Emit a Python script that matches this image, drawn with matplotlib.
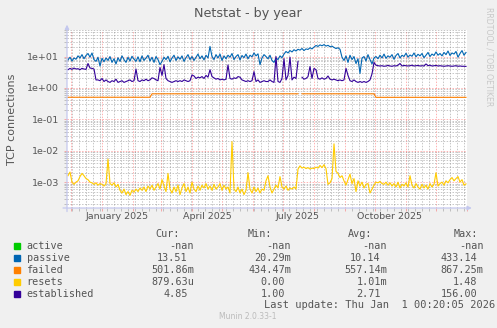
import datetime as dt
import math

import matplotlib

matplotlib.use("Agg")
import matplotlib.dates as mdates
import matplotlib.pyplot as plt
from matplotlib.patches import Rectangle
from matplotlib.ticker import FuncFormatter, LogLocator, NullFormatter
import numpy as np

END = dt.datetime(2026, 1, 1, 0, 20, 5)
START = END - dt.timedelta(days=400)
STEP_DAYS = 2

# daily averages, one sample every STEP_DAYS days
passive = [
    7.8, 9.5, 7.2, 9.0, 8.2, 10.5, 9.0, 11.5, 8.5, 10.8,
    12.5, 9.5, 13.0, 8.0, 7.0, 9.5, 5.0, 8.8, 6.8, 9.0,
    7.5, 10.0, 6.5, 8.5, 5.8, 9.2, 7.0, 10.5, 8.0, 6.5,
    9.5, 7.2, 10.2, 8.3, 7.0, 9.8, 6.8, 10.5, 7.5, 9.0,
    11.0, 7.2, 9.5, 6.5, 10.0, 8.0, 5.5, 7.0, 9.5, 8.0,
    10.2, 6.8, 9.0, 11.0, 7.5, 9.8, 8.2, 10.5, 7.0, 9.2,
    11.5, 8.0, 10.0, 7.5, 9.5, 12.0, 8.5, 10.5, 7.8, 11.0,
    9.0, 21.0, 10.0, 8.0, 11.5, 9.0, 12.0, 7.5, 10.5, 8.5,
    11.0, 9.5, 12.5, 8.0, 10.0, 11.5, 7.8, 10.8, 9.2, 12.0,
    8.5, 11.0, 9.8, 13.0, 10.5, 12.2, 5.5, 9.0, 11.5, 10.0,
    8.5, 11.0, 7.5, 6.5, 9.0, 8.0, 10.5, 9.2, 12.0, 14.5,
    13.0, 15.5, 14.0, 16.5, 15.0, 17.0, 16.0, 18.0, 15.5, 17.5,
    16.8, 19.0, 17.5, 20.0, 22.5, 21.0, 23.5, 22.0, 24.0, 21.5,
    22.8, 20.5, 21.5, 19.5, 18.0, 19.0, 17.0, 9.5, 7.5, 10.5,
    6.5, 11.0, 8.0, 10.0, 6.0, 8.5, 2.9, 9.0, 10.0, 7.2,
    11.5, 8.0, 5.8, 9.0, 10.0, 8.5, 11.0, 9.0, 12.0, 8.8,
    10.5, 9.5, 11.5, 8.2, 10.8, 12.5, 9.0, 11.0, 10.0, 12.8,
    9.5, 11.2, 10.2, 13.0, 9.8, 11.8, 10.5, 12.5, 9.2, 11.0,
    13.5, 10.0, 12.0, 10.8, 14.0, 11.0, 12.5, 10.5, 13.5, 11.5,
    15.0, 10.8, 13.0, 12.0, 14.5, 9.5, 12.5, 15.5, 11.0, 13.5,
]

nan = float("nan")

established = [
    3.8, 4.2, 3.9, 4.3, 4.0, 4.1, 3.8, 4.2, 4.0, 3.9,
    6.0, 4.3, 4.2, 4.0, 1.8, 1.8, 1.7, 2.0, 1.6, 1.8,
    1.6, 1.5, 1.7, 1.6, 1.9, 1.5, 1.6, 1.7, 1.5, 1.6,
    1.7, 1.8, 1.6, 1.7, 4.0, 1.7, 1.6, 1.8, 1.7, 1.9,
    1.7, 1.8, 2.1, 2.0, 1.8, 1.7, 4.5, 2.5, 5.5, 2.0,
    1.7, 1.6, 1.5, 1.6, 1.7, 1.6, 1.7, 1.6, 1.8, 1.7,
    1.6, 1.7, 2.6, 2.4, 2.0, 2.2, 2.1, 2.3, 2.0, 2.5,
    2.2, 3.8, 2.3, 2.1, 1.9, 2.0, 1.8, 1.9, 1.8, 1.9,
    5.4, 2.0, 1.9, 2.1, 2.0, 2.3, 2.2, 1.8, 1.7, 1.6,
    1.7, 1.6, 1.7, 3.3, 1.6, 1.8, 1.5, 1.6, 1.7, 1.6,
    1.6, 1.8, 1.6, 1.5, 10.0, 1.6, 1.5, 2.0, 8.5, 1.8,
    2.5, 9.5, 1.8, 2.2, 2.0, 7.0, nan, 2.2, 1.9, 2.0,
    2.3, 4.8, 2.0, 4.2, 3.8, 2.0, 1.9, 2.1, 1.9, 2.0,
    2.4, 1.9, 1.8, 1.9, 1.8, 1.7, 1.8, 1.7, 1.8, 4.2,
    2.5, 1.7, 1.6, 1.8, 1.6, 1.5, 1.6, 1.5, 1.6, 1.5,
    1.6, 1.8, 2.8, 6.5, 5.3, 5.1, 5.0, 5.1, 4.9, 5.0,
    5.2, 5.0, 4.9, 5.1, 5.0, 5.3, 6.0, 5.0, 5.2, 5.1,
    5.0, 5.1, 5.3, 5.0, 5.1, 5.2, 5.0, 5.1, 5.0, 5.8,
    5.1, 5.3, 5.0, 5.1, 5.2, 5.0, 5.1, 5.0, 4.9, 5.0,
    5.1, 5.0, 4.9, 5.0, 5.1, 4.9, 5.0, 4.9, 4.9, 4.85,
]

# flat levels of the failed counter, gap on the missing day
failed = [0.505] * 42 + [0.65] * 74 + [nan] + [0.65] * 37 + [0.502] * 46

# resets in thousandths
resets_m = [
    1.6, 2.1, 1.0, 0.85, 1.0, 1.1, 1.5, 1.9, 1.6, 1.3,
    1.2, 1.0, 0.95, 0.85, 0.95, 0.8, 0.9, 0.85, 0.75, 0.9,
    5.4, 0.9, 0.8, 0.95, 0.7, 0.85, 0.55, 0.45, 0.6, 0.4,
    0.5, 0.38, 0.55, 0.48, 0.6, 0.5, 0.65, 0.55, 0.7, 0.5,
    0.75, 0.6, 0.8, 0.55, 0.7, 0.9, 0.6, 1.2, 0.75, 0.5,
    1.9, 0.6, 0.45, 0.7, 0.5, 0.8, 0.4, 0.65, 0.9, 0.5,
    0.7, 0.45, 1.0, 0.6, 0.5, 0.75, 0.55, 0.8, 0.65, 0.9,
    0.6, 0.75, 0.55, 0.85, 0.6, 0.7, 0.9, 0.55, 0.8, 0.6,
    0.7, 0.45, 19.5, 0.6, 0.5, 0.7, 0.45, 0.6, 0.4, 0.55,
    2.0, 0.6, 0.45, 0.7, 0.5, 0.65, 0.45, 0.6, 0.55, 1.1,
    1.6, 0.7, 0.45, 0.6, 0.8, 0.65, 1.5, 0.7, 0.6, 0.75,
    0.55, 0.65, 0.6, 0.7, 0.6, 2.6, 3.3, 2.8, 3.0, 2.7,
    2.9, 2.6, 2.8, 2.7, 3.0, 2.8, 3.4, 2.9, 3.6, 2.7,
    0.85, 0.95, 1.3, 16.6, 2.2, 1.9, 1.4, 1.6, 1.1, 0.8,
    1.2, 1.8, 0.9, 1.3, 0.5, 1.1, 0.75, 1.0, 0.65, 0.85,
    0.9, 0.45, 0.6, 0.8, 1.0, 0.95, 1.05, 0.9, 0.85, 1.0,
    0.8, 0.95, 0.75, 0.9, 0.7, 1.0, 0.65, 0.85, 0.75, 0.95,
    0.7, 1.6, 0.8, 0.65, 0.9, 0.7, 0.6, 0.85, 0.65, 0.8,
    0.6, 0.9, 0.7, 0.85, 2.0, 0.75, 0.9, 1.0, 0.8, 1.1,
    0.95, 1.2, 1.4, 1.1, 1.3, 1.5, 1.0, 1.2, 0.8, 0.88,
]

names = ["active", "passive", "failed", "resets", "established"]
colors = ["#00CC00", "#0066B3", "#FF8000", "#FFCC00", "#330099"]
cur_vals = [nan, 13.51, 0.50186, 879.63e-6, 4.85]
min_vals = [nan, 20.29e-3, 0.43447, 0.0, 1.00]
avg_vals = [nan, 10.14, 0.55714, 1.01e-3, 2.71]
max_vals = [nan, 433.14, 0.86725, 1.48, 156.00]

label_months = [1, 4, 7, 10]

W, H = 497, 328
TEXT = "#555555"


def fx(px):
    return px / W


def fy(py):
    return 1 - py / H


def si(v):
    if math.isnan(v):
        return "-nan"
    if v == 0:
        return "0.00"
    prefixes = {-2: "u", -1: "m", 0: "", 1: "k"}
    e = int(math.floor(math.log10(abs(v)) / 3))
    e = max(-2, min(1, e))
    return f"{v / 1000 ** e:.2f}{prefixes[e]}"


def dates_for(values):
    return [START + dt.timedelta(days=1 + STEP_DAYS * i) for i in range(len(values))]


fig = plt.figure(figsize=(W / 100, H / 100), dpi=100, facecolor="#F0F0F0")
ax = fig.add_axes([fx(67), fy(208), fx(400), 178 / H])
ax.set_facecolor("white")

series = {
    "passive": passive,
    "failed": failed,
    "resets": list(np.array(resets_m) * 1e-3),
    "established": established,
}
for name, color in zip(names, colors):
    if name not in series:
        continue
    vals = series[name]
    ax.plot(dates_for(vals), vals, color=color, lw=0.8, zorder=3)

ax.set_yscale("log")
ax.set_ylim(1.5e-4, 70)
ax.set_xlim(START, END)

ax.yaxis.set_major_locator(LogLocator(base=10, numticks=12))
ax.yaxis.set_minor_locator(LogLocator(base=10, subs=np.arange(2, 10), numticks=12))
ax.yaxis.set_major_formatter(FuncFormatter(lambda v, _: f"{v:.0e}"))
ax.yaxis.set_minor_formatter(NullFormatter())

ax.xaxis.set_major_locator(mdates.MonthLocator())
ax.xaxis.set_minor_locator(mdates.WeekdayLocator(byweekday=mdates.MO))
ax.xaxis.set_major_formatter(NullFormatter())
ax.xaxis.set_minor_formatter(NullFormatter())

major_rgb, major_a = (1.0, 0.0, 0.0), 0.3
minor_rgb, minor_a = (0.55, 0.55, 0.55), 0.5
for axis in ("x", "y"):
    ax.grid(True, which="major", axis=axis, color=major_rgb, alpha=major_a,
            lw=0.7, linestyle=(0, (1.5, 1.5)), zorder=1)
    ax.grid(True, which="minor", axis=axis, color=minor_rgb, alpha=minor_a,
            lw=0.7, linestyle=(0, (1.5, 1.5)), zorder=1)
ax.set_axisbelow(True)

ax.tick_params(which="major", length=2.5, width=0.7,
               color=major_rgb + (major_a,),
               labelsize=6.8, labelcolor=TEXT, pad=3.2)
ax.tick_params(which="minor", length=2, width=0.7,
               color=minor_rgb + (minor_a,))
for s in ax.spines.values():
    s.set_visible(False)

# month labels sit in the middle of their month
for m in label_months:
    d = dt.datetime(2025, m, 16)
    ax.text(mdates.date2num(d), -0.048, d.strftime("%B %Y"),
            transform=ax.get_xaxis_transform(), ha="center", va="center",
            fontsize=6.8, color=TEXT)

# axis lines with arrow heads
axis_c = "#C4C8EE"
arrow = dict(arrowstyle="-|>", color=axis_c, lw=0.9, mutation_scale=6,
             shrinkA=0, shrinkB=0)
ax.annotate("", xy=(0, 1.03), xytext=(0, -0.02), xycoords="axes fraction",
            arrowprops=arrow, annotation_clip=False)
ax.annotate("", xy=(1.012, 0), xytext=(-0.01, 0), xycoords="axes fraction",
            arrowprops=arrow, annotation_clip=False)

fig.text(fx(248), fy(13), "Netstat - by year", ha="center", va="center",
         fontsize=9.2, color=TEXT)
fig.text(fx(12), fy(119), "TCP connections", rotation=90, ha="center",
         va="center", fontsize=8, color=TEXT)
fig.text(fx(489), fy(57), "RRDTOOL / TOBI OETIKER", rotation=270,
         ha="center", va="center", fontsize=5.6, color="#C8C8C8")

# legend table
mono = dict(family="DejaVu Sans Mono", fontsize=7.3, color=TEXT, va="center")
char_w = 6.1
headers = ["Cur:", "Min:", "Avg:", "Max:"]
header_x = [180, 272, 372, 478]
value_x = [194, 291, 387, 483.5]
columns = [cur_vals, min_vals, avg_vals, max_vals]

for hx, h in zip(header_x, headers):
    fig.text(fx(hx), fy(234), h, ha="right", **mono)

for row, (name, color) in enumerate(zip(names, colors)):
    y = 245.7 + 12 * row
    fig.patches.append(Rectangle((fx(14), fy(y + 3)), fx(6), 6 / H,
                                 transform=fig.transFigure, color=color))
    fig.text(fx(26.5), fy(y), name, ha="left", **mono)
    for vx, col in zip(value_x, columns):
        s = si(col[row])
        x = vx if s[-1].isalpha() else vx - char_w
        fig.text(fx(x), fy(y), s, ha="right", **mono)

fig.text(fx(495.7), fy(305),
         f"Last update: {END:%a %b} {END.day:2d} {END:%H:%M:%S %Y}",
         ha="right", **{**mono, "fontsize": 7.5})
fig.text(fx(248), fy(316.7), "Munin 2.0.33-1", ha="center", va="center",
         fontsize=5.5, color="#BBBBBB")

fig.savefig("out.png", dpi=100, facecolor=fig.get_facecolor())
